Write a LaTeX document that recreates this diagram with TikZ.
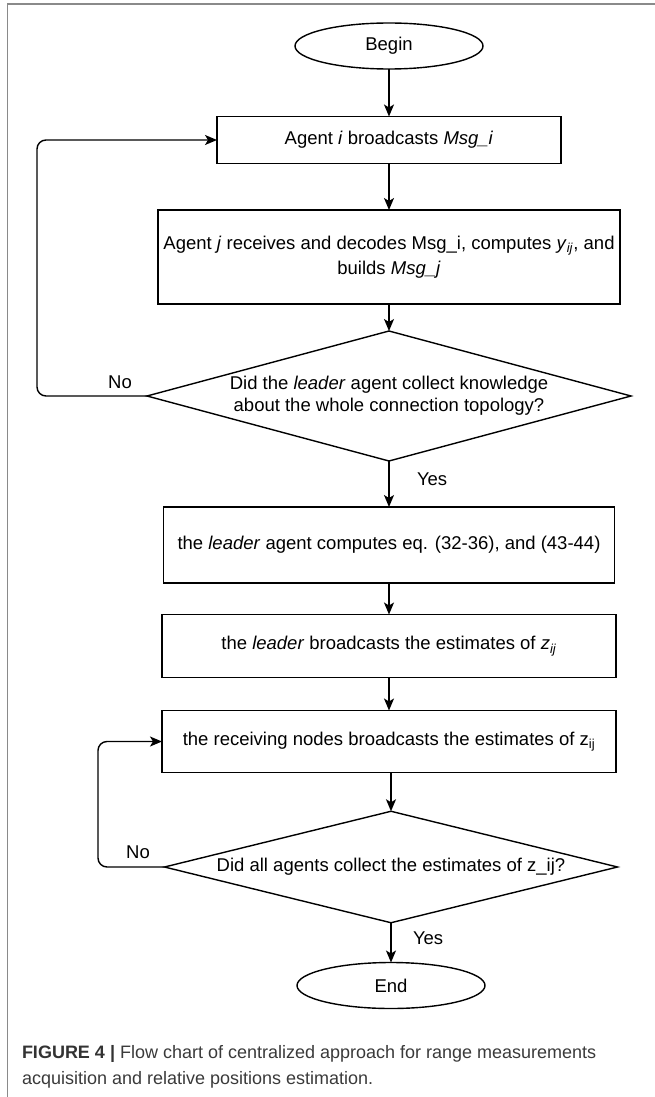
\documentclass[tikz,border=0pt]{standalone}
\usepackage{fontspec}
\setmainfont{Liberation Sans}
\usetikzlibrary{shapes.geometric,arrows.meta}
\definecolor{framegray}{HTML}{8A8A8A}
\definecolor{captext}{HTML}{3A3A3A}
\begin{document}
\begin{tikzpicture}[x=1pt,y=-1pt,
  font=\fontsize{18.5}{25}\selectfont,
  every node/.style={inner sep=0pt, outer sep=0pt},
  procbox/.style={draw, line width=1.4pt, rectangle, align=center},
  termbox/.style={draw, line width=1.4pt, ellipse, minimum width=188pt, minimum height=46pt},
  decbox/.style={draw, line width=1.4pt, diamond, shape aspect=3.7, align=center,
    font=\fontsize{18.5}{22}\selectfont},
  flow/.style={line width=1.4pt, -{Stealth[length=12pt,width=10pt,inset=3pt]}},
  loopline/.style={flow, rounded corners=9pt},
  lbl/.style={font=\fontsize{18.5}{20}\selectfont}
]
\useasboundingbox (0,0) rectangle (655,1097);
% page frame
\draw[framegray, line width=1.2pt] (7.5,1097) -- (7.5,4) -- (655,4);

% flow chart nodes
\node[termbox] (begin) at (389,46) {Begin};
\node[procbox, minimum width=344pt, minimum height=47pt] (b1) at (389,140)
  {Agent \textit{i} broadcasts \textit{Msg\_i}};
\node[procbox, minimum width=462pt, minimum height=94pt] (b2) at (389,257)
  {Agent \textit{j} receives and decodes Msg\_i, computes \textit{y}\textsubscript{\textit{ij}}, and\\builds \textit{Msg\_j}};
\node[decbox, minimum width=484pt, minimum height=130pt] (d1) at (389,396)
  {Did the \textit{leader} agent collect knowledge\\about the whole connection topology?};
\node[procbox, minimum width=451pt, minimum height=76pt] (b3) at (389,545)
  {the \textit{leader} agent computes eq. (32-36), and (43-44)};
\node[procbox, minimum width=454pt, minimum height=63pt] (b4) at (389,646)
  {the \textit{leader} broadcasts the estimates of \textit{z}\textsubscript{\textit{ij}}};
\node[procbox, minimum width=454pt, minimum height=62pt] (b5) at (389,741.5)
  {the receiving nodes broadcasts the estimates of z\textsubscript{ij}};
\node[decbox, minimum width=453pt, minimum height=94pt] (d2) at (391,867)
  {Did all agents collect the estimates of z\_ij?};
\node[termbox] (end) at (391,985.5) {End};

% connectors
\draw[flow] (begin) -- (b1);
\draw[flow] (b1) -- (b2);
\draw[flow] (b2) -- (d1);
\draw[flow] (d1) -- (b3) node[lbl, pos=0.4, right=28pt] {Yes};
\draw[flow] (b3) -- (b4);
\draw[flow] (b4) -- (b5);
\draw[flow] (b5.south -| d2.north) -- (d2.north);
\draw[flow] (d2) -- (end) node[lbl, pos=0.4, right=22pt] {Yes};
\draw[loopline] (d1.west) -- (37,396) -- (37,140) -- (b1.west);
\draw[loopline] (d2.west) -- (98,867) -- (98,741.5) -- (b5.west);
\node[lbl] (no1) at (120,382) {No};
\node[lbl] (no2) at (138,852) {No};

% caption
\node[anchor=west, text=captext, font=\fontsize{18}{26}\selectfont, align=left] (cap) at (22,1067)
  {\textbf{\color{black!80}FIGURE 4 |} Flow chart of centralized approach for range measurements\\acquisition and relative positions estimation.};
\end{tikzpicture}
\end{document}
